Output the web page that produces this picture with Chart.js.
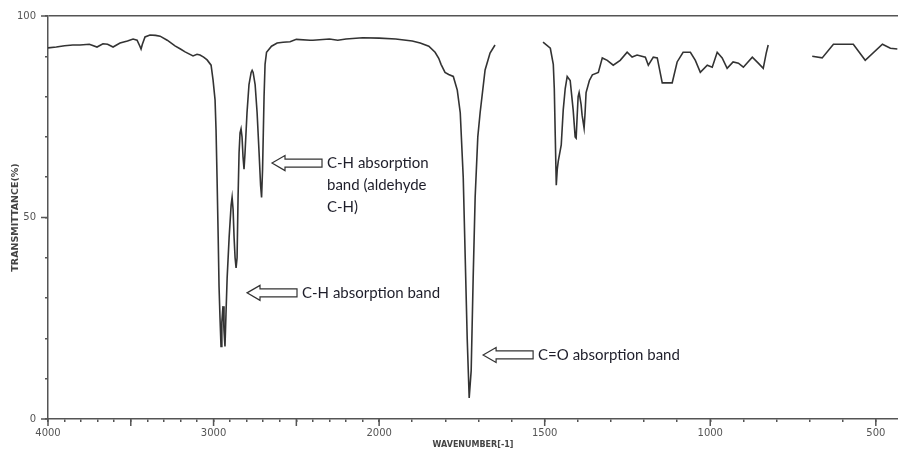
<!DOCTYPE html>
<html>
<head>
<meta charset="utf-8">
<script src="https://cdn.jsdelivr.net/npm/chart.js@4/dist/chart.umd.min.js"></script>
<style>
  html, body { margin: 0; padding: 0; background: #fff; }
  #wrap { width: 898px; height: 450px; }
</style>
</head>
<body>
<div id="wrap"><canvas id="irChart"></canvas></div>
<script>
// wavenumber (cm-1) and transmittance (%); null = gap in the trace
const wavenumbers = [
  4000, 3950, 3900, 3850, 3807, 3750, 3704, 3668, 3640, 3607, 3565, 3520, 3486, 3462, 3445, 3438,
  3430, 3414, 3384, 3350, 3323, 3280, 3233, 3200, 3172, 3124, 3100, 3082, 3060, 3039, 3015, 3003,
  2991, 2985, 2979, 2972, 2967, 2961, 2955, 2950, 2943, 2937, 2931, 2925, 2918, 2906, 2894, 2888,
  2882, 2876, 2870, 2864, 2858, 2852, 2846, 2840, 2834, 2828, 2822, 2816, 2810, 2798, 2786, 2773,
  2767, 2761, 2749, 2737, 2725, 2716, 2710, 2704, 2695, 2689, 2680, 2650, 2616, 2580, 2538, 2500,
  2417, 2400, 2300, 2250, 2200, 2100, 2000, 1950, 1900, 1876, 1850, 1831, 1820, 1813, 1801, 1790,
  1776, 1764, 1755, 1746, 1740, 1734, 1728, 1722, 1716, 1710, 1702, 1695, 1680, 1665, 1650, 1600,
  1505, 1483, 1474, 1471, 1468, 1465, 1462, 1459, 1450, 1444, 1438, 1432, 1423, 1414, 1408, 1405,
  1402, 1399, 1396, 1390, 1387, 1381, 1378, 1375, 1365, 1356, 1338, 1326, 1311, 1293, 1272, 1251,
  1236, 1221, 1196, 1187, 1172, 1160, 1145, 1130, 1115, 1100, 1082, 1060, 1045, 1030, 1009, 994,
  979, 964, 949, 931, 915, 900, 873, 855, 840, 831, 825, 760,
  692, 662, 628, 568, 532, 480, 456, 435
];
const transmittance = [
  92.1, 92.3, 92.6, 92.8, 92.8, 93.0, 92.3, 93.1, 93.0, 92.3, 93.3, 93.8, 94.3, 94.0, 92.5, 91.8,
  93.0, 94.8, 95.3, 95.2, 95.0, 94.0, 92.6, 91.8, 91.1, 90.1, 90.5, 90.3, 89.8, 89.1, 87.8, 84.1,
  79.2, 71.7, 60, 45, 33, 25, 18, 24, 28, 22, 18, 26, 35, 45, 53, 55,
  52, 45, 40, 37.5, 40, 55, 66, 71, 72, 70, 65, 62, 66, 76, 83, 86,
  86.5, 86, 83, 76, 66, 58, 55, 62, 80, 88, 91, 92.5, 93.3, 93.5, 93.6, 94.2,
  94.0, 94.0, 94.3, 94.0, 94.3, 94.6, 94.5, 94.3, 93.8, 93.3, 92.5, 91.0, 89.5, 88, 86.0, 85.5,
  85.0, 81.6, 76, 60, 40, 20, 5.2, 12, 35, 55, 70, 76, 86.6, 90.8, 92.8, null,
  93.5, 92, 88, 82, 70, 58, 62, 64, 68, 76.7, 82, 85, 84, 76.7, 70, 69.7,
  75, 80, 81, 78, 75.4, 72.2, 76, 81, 84, 85.4, 86, 89.6, 89, 87.8, 89, 91,
  89.8, 90.3, 89.8, 87.8, 89.8, 89.6, 83.4, 83.4, 83.4, 88.6, 91, 91, 89, 86, 87.8, 87.3,
  91, 89.6, 87, 88.6, 88.3, 87.3, 89.8, 88.3, 87, 90.8, 92.8, null,
  90, 89.6, 93, 93, 89, 93, 92, 91.8
];
const xLabelValues = [4000, 3000, 2000, 1500, 1000, 500];
const yLabelValues = [0, 50, 100];

const notes = [
  { wn: 2647, t: 63.5, lines: ['C-H absorption', 'band (aldehyde', 'C-H)'] },
  { wn: 2798, t: 31.3, lines: ['C-H absorption band'] },
  { wn: 1686, t: 15.9, lines: ['C=O absorption band'] }
];

const AXIS = '#555';
const BREAK = 2000; // scale doubles below 2000 cm-1

// IR wavenumber axis: high values on the left, expanded scale below 2000
class WavenumberScale extends Chart.LinearScale {
  buildTicks() {
    const ticks = [];
    for (let v = 4000; v >= 500; v -= 100) {
      ticks.push({ value: v, major: v % 500 === 0 });
    }
    return ticks;
  }
  toUnits(v) {
    return v >= BREAK ? (this.max - v) : (this.max - BREAK) + (BREAK - v) * 2;
  }
  getPixelForValue(value) {
    const total = this.toUnits(this.min);
    return this.left + this.toUnits(value) / total * this.width;
  }
  getValueForPixel(pixel) {
    const u = (pixel - this.left) / this.width * this.toUnits(this.min);
    const uBreak = this.max - BREAK;
    return u <= uBreak ? this.max - u : BREAK - (u - uBreak) / 2;
  }
}
WavenumberScale.id = 'wavenumber';
WavenumberScale.defaults = Chart.LinearScale.defaults;
Chart.register(WavenumberScale);

// longer tick marks at the labelled positions
const majorTicks = {
  id: 'majorTicks',
  afterDraw(chart) {
    const ctx = chart.ctx;
    const x = chart.scales.x, y = chart.scales.y;
    ctx.save();
    ctx.strokeStyle = AXIS;
    ctx.lineWidth = 1.5;
    ctx.beginPath();
    for (let v = 4000; v >= 500; v -= 500) {
      const px = x.getPixelForValue(v);
      ctx.moveTo(px, x.top);
      ctx.lineTo(px, x.top + 7);
    }
    yLabelValues.forEach(function(v) {
      const py = y.getPixelForValue(v);
      ctx.moveTo(y.right, py);
      ctx.lineTo(y.right - 7, py);
    });
    ctx.stroke();
    ctx.restore();
  }
};

// hollow arrows with notes
const arrowNotes = {
  id: 'arrowNotes',
  afterDatasetsDraw(chart) {
    const ctx = chart.ctx;
    const x = chart.scales.x, y = chart.scales.y;
    ctx.save();
    notes.forEach(function(n) {
      const px = x.getPixelForValue(n.wn);
      const py = y.getPixelForValue(n.t);
      ctx.beginPath();
      ctx.moveTo(px, py);
      ctx.lineTo(px + 13, py - 7.5);
      ctx.lineTo(px + 13, py - 4);
      ctx.lineTo(px + 50, py - 4);
      ctx.lineTo(px + 50, py + 4);
      ctx.lineTo(px + 13, py + 4);
      ctx.lineTo(px + 13, py + 7.5);
      ctx.closePath();
      ctx.fillStyle = '#fff';
      ctx.fill();
      ctx.strokeStyle = '#333';
      ctx.lineWidth = 1.2;
      ctx.stroke();

      ctx.fillStyle = '#1e1e2a';
      ctx.font = '15px Lato';
      ctx.textBaseline = 'middle';
      ctx.textAlign = 'left';
      n.lines.forEach(function(line, i) {
        ctx.fillText(line, px + 55, py + i * 22);
      });
    });
    ctx.restore();
  }
};

new Chart(document.getElementById('irChart'), {
  type: 'line',
  data: {
    datasets: [{
      data: wavenumbers.map((w, i) => ({ x: w, y: transmittance[i] })),
      borderColor: '#333',
      borderWidth: 1.6,
      pointRadius: 0,
      tension: 0,
      spanGaps: false,
      fill: false
    }]
  },
  options: {
    responsive: true,
    maintainAspectRatio: false,
    animation: false,
    layout: { padding: { top: 16, right: 0, left: 0, bottom: 0 } },
    plugins: {
      legend: { display: false },
      tooltip: { enabled: false }
    },
    scales: {
      x: {
        type: 'wavenumber',
        min: 433,
        max: 4000,
        afterFit: function(scale) { scale.height = 31; },
        border: { color: AXIS, width: 1.5 },
        grid: { drawOnChartArea: false, drawTicks: true, tickLength: 3, color: AXIS, lineWidth: 1.5 },
        ticks: {
          autoSkip: false,
          maxRotation: 0,
          minRotation: 0,
          padding: 5,
          color: '#555',
          font: { family: 'DejaVu Sans', size: 10 },
          callback: function(value) {
            return xLabelValues.includes(value) ? String(value) : '';
          }
        },
        title: {
          display: true,
          text: 'WAVENUMBER[-1]',
          color: '#444',
          font: { family: 'DejaVu Sans', size: 8, weight: 'bold' },
          padding: { top: 0, bottom: 0 }
        }
      },
      y: {
        min: 0,
        max: 100,
        afterFit: function(scale) { scale.width = 48; },
        border: { color: AXIS, width: 1.5 },
        grid: {
          drawTicks: true,
          tickLength: 3,
          tickColor: AXIS,
          lineWidth: 1.5,
          color: function(ctx) {
            return ctx.tick && ctx.tick.value === 100 ? AXIS : 'rgba(0,0,0,0)';
          }
        },
        ticks: {
          stepSize: 10,
          autoSkip: false,
          padding: 9,
          color: '#555',
          font: { family: 'DejaVu Sans', size: 10 },
          callback: function(value) {
            return yLabelValues.includes(value) ? String(value) : '';
          }
        },
        title: {
          display: true,
          text: 'TRANSMITTANCE(%)',
          color: '#444',
          font: { family: 'DejaVu Sans', size: 9.5, weight: 'bold' },
          padding: { top: 10, bottom: 0 }
        }
      }
    }
  },
  plugins: [majorTicks, arrowNotes]
});
</script>
</body>
</html>
